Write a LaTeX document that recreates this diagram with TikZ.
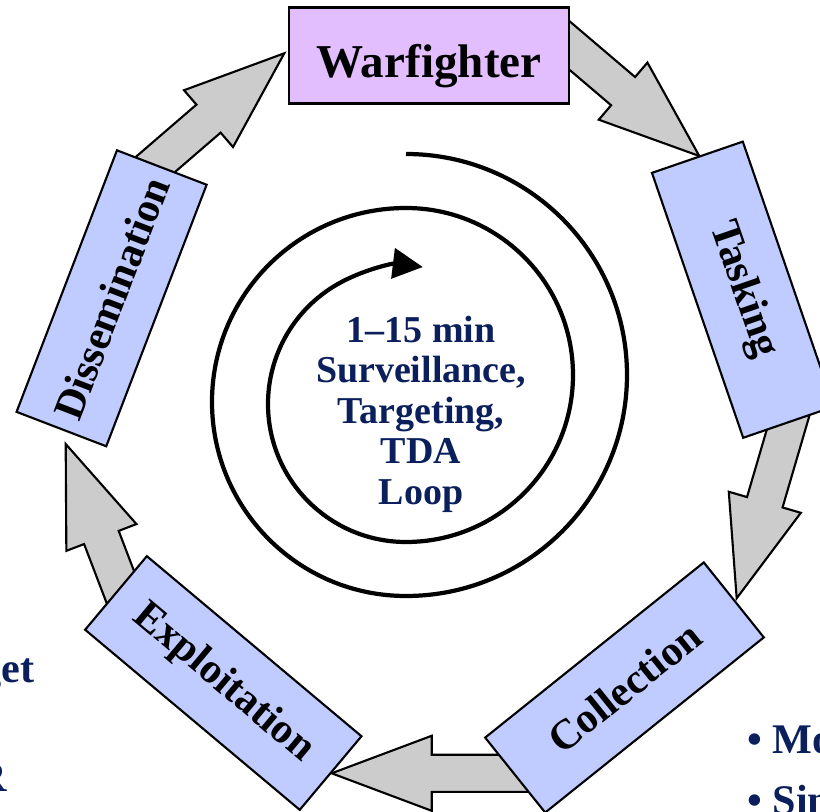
\documentclass[tikz,border=0pt]{standalone}
\usepackage{fontspec}
\setmainfont{Liberation Serif}
\usetikzlibrary{calc,arrows.meta}
\definecolor{stagepurple}{RGB}{226,190,255}
\definecolor{stageblue}{RGB}{192,204,255}
\definecolor{arrowgray}{RGB}{204,204,204}
\definecolor{loopnavy}{RGB}{10,31,92}
\newcommand{\blockarrow}[2]{%
\path ($(#2)!1cm!(#1)$) coordinate (ba);
\draw [flowarrow] ($(#1)!0.185cm!90:(#2)$) -- ($(ba)!0.185cm!90:(#2)$) -- ($(ba)!0.375cm!90:(#2)$) -- (#2)
  -- ($(ba)!0.375cm!-90:(#2)$) -- ($(ba)!0.185cm!-90:(#2)$) -- ($(#1)!0.185cm!-90:(#2)$) -- cycle;}
\begin{document}
\begin{tikzpicture}[x=0.01cm,y=-0.01cm,
  stage/.style={draw=black,line width=0.6pt,minimum width=2.8cm,minimum height=0.96cm,inner xsep=0.1cm,
    font=\fontsize{12}{14}\selectfont\bfseries},
  flowarrow/.style={draw=black,fill=arrowgray,line width=0.6pt,line join=miter},
  sidetext/.style={inner sep=0pt,text=loopnavy,font=\fontsize{12}{14}\selectfont\bfseries}]
\useasboundingbox (0,0) rectangle (820,812);
\coordinate (dw0) at (139.7,178);
\coordinate (dw1) at (284.3,53.3);
\coordinate (wt0) at (550,28.9);
\coordinate (wt1) at (699.3,156);
\coordinate (tc0) at (795.7,396.7);
\coordinate (tc1) at (736.7,598.3);
\coordinate (ce0) at (540,773.3);
\coordinate (ce1) at (331.7,773.3);
\coordinate (ed0) at (131.7,616.8);
\coordinate (ed1) at (65.7,444);
\blockarrow{dw0}{dw1}
\blockarrow{wt0}{wt1}
\blockarrow{tc0}{tc1}
\blockarrow{ce0}{ce1}
\blockarrow{ed0}{ed1}
\node [stage,fill=stagepurple,font=\fontsize{13.4}{15}\selectfont\bfseries,text height=0.53cm,text depth=0.1cm] (w) at (429,55.5) {Warfighter};
\node [stage,fill=stageblue,rotate=-71] (t) at (743,289.7) {Tasking};
\node [stage,fill=stageblue,rotate=38.7] (c) at (624.5,687.5) {Collection};
\node [stage,fill=stageblue,rotate=-40] (e) at (223.3,683) {Exploitation};
\node [stage,fill=stageblue,rotate=69] (d) at (111.6,298.3) {Dissemination};
\draw [black,line width=1.2pt,-{Triangle[length=0.3cm,width=0.3cm]}] (406,154)
  arc [start angle=-90,end angle=90,radius=221]
  arc [start angle=90,end angle=270,radius=194]
  arc [start angle=-90,end angle=90,radius=167]
  arc [start angle=90,end angle=277,radius=138];
\node [inner sep=0pt,align=center,text=loopnavy,font=\fontsize{10.8}{11.5}\selectfont\bfseries] (loop) at (421,414)
  {1--15 min\\Surveillance,\\Targeting,\\TDA\\Loop};
\node [sidetext,anchor=base east] (target) at (35,683) {get};
\node [sidetext,anchor=base east] (isr) at (8,791.7) {R};
\node [sidetext,anchor=base west] (mo) at (746.7,754) {• Mo};
\node [sidetext,anchor=base west] (sin) at (746.7,815) {• Sin};
\end{tikzpicture}
\end{document}
